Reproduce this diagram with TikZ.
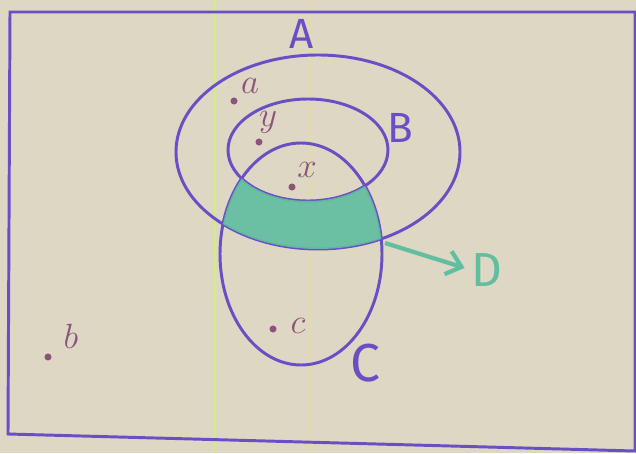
\documentclass[tikz,border=0pt]{standalone}
\usepackage{fontspec}
\setsansfont{Fira Sans}
\usetikzlibrary{arrows.meta}
\definecolor{paper}{RGB}{221,215,196}
\definecolor{penviolet}{RGB}{104,80,196}
\definecolor{pengreen}{RGB}{98,190,160}
\definecolor{inkred}{RGB}{140,84,122}
\definecolor{crease}{RGB}{212,240,112}
\tikzset{
  >=latex,
  % contorni degli insiemi
  setline/.style={penviolet,line width=2.1pt},
  % etichette degli insiemi
  setlabel/.style={penviolet,font=\sffamily\fontsize{30}{30}\selectfont,inner sep=0},
  % elementi e punti
  elem/.style={inkred,font=\fontsize{32}{32}\selectfont,inner sep=0},
  elemdot/.style={circle,fill=inkred,inner sep=0,minimum size=5pt},
  % regione D
  region/.style={fill=pengreen,fill opacity=0.92},
  regarrow/.style={pengreen,line width=3pt,-{Straight Barb[length=10pt,width=17pt]},shorten >=5pt}
}
\begin{document}
\begin{tikzpicture}[x=0.025cm,y=-0.025cm]
    \useasboundingbox (0,0) rectangle (636,453);
    \fill[paper] (0,0) rectangle (636,453);
    \draw[crease,line width=1.2pt] (215,0)--(215,453);
    \draw[paper!85!yellow,line width=0.6pt] (310,0)--(310,453);
    % cornice
    \draw[setline] (10,12)--(635,12)--(635,451)--(8,434)--cycle;
    % centri
    \coordinate (cA) at (318,152);
    \coordinate (cB) at (308,150);
    \coordinate (cC) at (301,254);
    \draw[setline] (cA) ellipse [x radius=142,y radius=97];
    \draw[setline] (cB) ellipse [x radius=80,y radius=51];
    \draw[setline] (cC) ellipse [x radius=81,y radius=111];
    \begin{scope}
      \clip (cC) ellipse [x radius=81,y radius=111];
      \clip (cA) ellipse [x radius=142,y radius=97];
      \fill[region,even odd rule] (200,120) rectangle (420,270)
        (cB) ellipse [x radius=80,y radius=51];
    \end{scope}
    \node[setlabel] (A) at (302,34) {A};
    \node[setlabel] (B) at (400,128) {B};
    \node[setlabel,font=\sffamily\fontsize{38}{38}\selectfont] (C) at (365,363) {C};
    \node[setlabel,pengreen,font=\sffamily\fontsize{34}{34}\selectfont] (D) at (487,270) {D};
    \coordinate (Dfrom) at (385,243);
    \draw[regarrow] (Dfrom)--(D.west);
    % elementi
    \node[elemdot] (pa) at (234,101) {};
    \node[elem] (a) at (250,86) {$a$};
    \node[elemdot] (py) at (259,142) {};
    \node[elem] (y) at (268,122) {$y$};
    \node[elemdot] (px) at (292,187) {};
    \node[elem] (x) at (307,170) {$x$};
    \node[elemdot] (pc) at (273,329) {};
    \node[elem] (c) at (298,326) {$c$};
    \node[elemdot] (pb) at (48,357) {};
    \node[elem] (b) at (71,336) {$b$};
\end{tikzpicture}
\end{document}
